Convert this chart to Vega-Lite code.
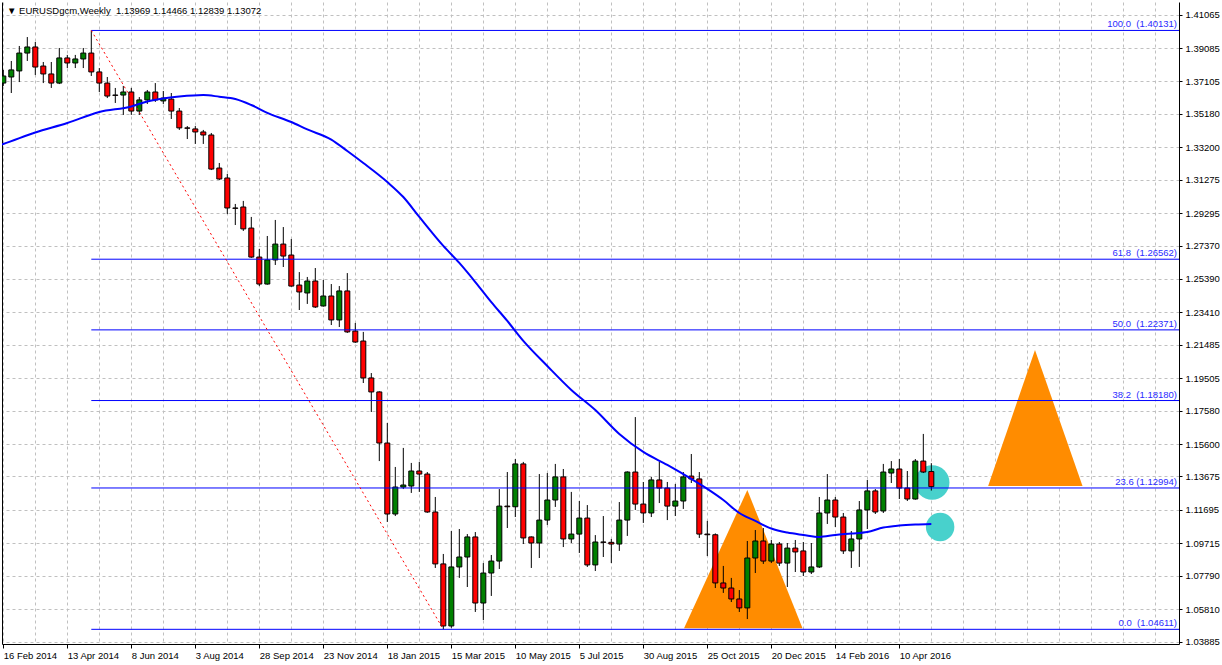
{
  "$schema": "https://vega.github.io/schema/vega-lite/v6.json",
  "width": 1177,
  "height": 642,
  "autosize": {"type": "none"},
  "padding": {"left": 2, "top": 2, "right": 43, "bottom": 21},
  "background": "white",
  "config": {
    "view": {"stroke": null},
    "font": "Liberation Sans",
    "scale": {"continuousPadding": 0},
    "axis": {"labelFont": "Liberation Sans", "labelFontSize": 9.5, "labelColor": "#000000", "title": null}
  },
  "title": {
    "text": "▼ EURUSDgcm,Weekly\u00a0\u00a01.13969 1.14466 1.12839 1.13072",
    "anchor": "start", "frame": "group", "orient": "top", "offset": -13, "dx": 5,
    "fontSize": 9.5, "fontWeight": "normal", "font": "Liberation Sans", "color": "#000000"
  },
  "resolve": {"axis": {"x": "independent", "y": "independent"}},
  "datasets": {
    "candles": [
      {"date":"2014-02-16","open":1.3701,"high":1.3779,"low":1.3684,"close":1.3743},
      {"date":"2014-02-23","open":1.3737,"high":1.3832,"low":1.3642,"close":1.3779},
      {"date":"2014-03-02","open":1.3773,"high":1.3921,"low":1.3707,"close":1.3879},
      {"date":"2014-03-09","open":1.3879,"high":1.3974,"low":1.3832,"close":1.3915},
      {"date":"2014-03-16","open":1.3915,"high":1.3945,"low":1.3749,"close":1.3796},
      {"date":"2014-03-23","open":1.3802,"high":1.3826,"low":1.3701,"close":1.3755},
      {"date":"2014-03-30","open":1.3755,"high":1.3826,"low":1.3672,"close":1.3701},
      {"date":"2014-04-06","open":1.3701,"high":1.3909,"low":1.3695,"close":1.3850},
      {"date":"2014-04-13","open":1.3850,"high":1.3868,"low":1.3790,"close":1.3820},
      {"date":"2014-04-20","open":1.3820,"high":1.3868,"low":1.3790,"close":1.3844},
      {"date":"2014-04-27","open":1.3844,"high":1.3909,"low":1.3790,"close":1.3879},
      {"date":"2014-05-04","open":1.3879,"high":1.40131,"low":1.3743,"close":1.3767},
      {"date":"2014-05-11","open":1.3767,"high":1.3790,"low":1.3648,"close":1.3701},
      {"date":"2014-05-18","open":1.3701,"high":1.3737,"low":1.3612,"close":1.3624},
      {"date":"2014-05-25","open":1.3630,"high":1.3672,"low":1.3583,"close":1.3628},
      {"date":"2014-06-01","open":1.3630,"high":1.3684,"low":1.3512,"close":1.3648},
      {"date":"2014-06-08","open":1.3648,"high":1.3672,"low":1.3512,"close":1.3535},
      {"date":"2014-06-15","open":1.3535,"high":1.3618,"low":1.3512,"close":1.3601},
      {"date":"2014-06-22","open":1.3601,"high":1.3660,"low":1.3577,"close":1.3648},
      {"date":"2014-06-29","open":1.3648,"high":1.3701,"low":1.3589,"close":1.3601},
      {"date":"2014-07-06","open":1.3595,"high":1.3654,"low":1.3577,"close":1.3612},
      {"date":"2014-07-13","open":1.3606,"high":1.3642,"low":1.3488,"close":1.3535},
      {"date":"2014-07-20","open":1.3535,"high":1.3553,"low":1.3423,"close":1.3435},
      {"date":"2014-07-27","open":1.3435,"high":1.3446,"low":1.3369,"close":1.3433},
      {"date":"2014-08-03","open":1.3429,"high":1.3446,"low":1.3340,"close":1.3411},
      {"date":"2014-08-10","open":1.3411,"high":1.3423,"low":1.3340,"close":1.3393},
      {"date":"2014-08-17","open":1.3393,"high":1.3405,"low":1.3185,"close":1.3191},
      {"date":"2014-08-24","open":1.3197,"high":1.3227,"low":1.3126,"close":1.3132},
      {"date":"2014-08-31","open":1.3138,"high":1.3162,"low":1.2924,"close":1.2960},
      {"date":"2014-09-07","open":1.2960,"high":1.2984,"low":1.2859,"close":1.2958},
      {"date":"2014-09-14","open":1.2966,"high":1.3002,"low":1.2824,"close":1.2836},
      {"date":"2014-09-21","open":1.2841,"high":1.2907,"low":1.2664,"close":1.2669},
      {"date":"2014-09-28","open":1.2669,"high":1.2717,"low":1.2497,"close":1.2509},
      {"date":"2014-10-05","open":1.2509,"high":1.2794,"low":1.2505,"close":1.2652},
      {"date":"2014-10-12","open":1.2652,"high":1.2889,"low":1.2622,"close":1.2746},
      {"date":"2014-10-19","open":1.2746,"high":1.2847,"low":1.2610,"close":1.2675},
      {"date":"2014-10-26","open":1.2681,"high":1.2776,"low":1.2493,"close":1.2497},
      {"date":"2014-11-02","open":1.2503,"high":1.2580,"low":1.2355,"close":1.2462},
      {"date":"2014-11-09","open":1.2456,"high":1.2551,"low":1.2391,"close":1.2527},
      {"date":"2014-11-16","open":1.2527,"high":1.2604,"low":1.2367,"close":1.2373},
      {"date":"2014-11-23","open":1.2379,"high":1.2533,"low":1.2375,"close":1.2438},
      {"date":"2014-11-30","open":1.2438,"high":1.2509,"low":1.2266,"close":1.2296},
      {"date":"2014-12-07","open":1.2296,"high":1.2497,"low":1.2254,"close":1.2468},
      {"date":"2014-12-14","open":1.2468,"high":1.2574,"low":1.2219,"close":1.2225},
      {"date":"2014-12-21","open":1.2230,"high":1.2278,"low":1.2160,"close":1.2165},
      {"date":"2014-12-28","open":1.2171,"high":1.2225,"low":1.1922,"close":1.1952},
      {"date":"2015-01-04","open":1.1952,"high":1.1981,"low":1.1750,"close":1.1869},
      {"date":"2015-01-11","open":1.1869,"high":1.1873,"low":1.1459,"close":1.1566},
      {"date":"2015-01-18","open":1.1566,"high":1.1685,"low":1.1098,"close":1.1145},
      {"date":"2015-01-25","open":1.1145,"high":1.1424,"low":1.1133,"close":1.1305},
      {"date":"2015-02-01","open":1.1305,"high":1.1537,"low":1.1293,"close":1.1317},
      {"date":"2015-02-08","open":1.1311,"high":1.1448,"low":1.1270,"close":1.1400},
      {"date":"2015-02-15","open":1.1400,"high":1.1454,"low":1.1276,"close":1.1382},
      {"date":"2015-02-22","open":1.1382,"high":1.1394,"low":1.1152,"close":1.1157},
      {"date":"2015-03-01","open":1.1157,"high":1.1246,"low":1.0825,"close":1.0849},
      {"date":"2015-03-08","open":1.0849,"high":1.0908,"low":1.04611,"close":1.0481},
      {"date":"2015-03-15","open":1.0481,"high":1.1044,"low":1.0470,"close":1.0831},
      {"date":"2015-03-22","open":1.0831,"high":1.1056,"low":1.0766,"close":1.0890},
      {"date":"2015-03-29","open":1.0890,"high":1.1026,"low":1.0712,"close":1.1009},
      {"date":"2015-04-05","open":1.1009,"high":1.1038,"low":1.0564,"close":1.0617},
      {"date":"2015-04-12","open":1.0617,"high":1.0854,"low":1.0516,"close":1.0795},
      {"date":"2015-04-19","open":1.0795,"high":1.0902,"low":1.0659,"close":1.0866},
      {"date":"2015-04-26","open":1.0866,"high":1.1293,"low":1.0819,"close":1.1192},
      {"date":"2015-05-03","open":1.1192,"high":1.1394,"low":1.1062,"close":1.1188},
      {"date":"2015-05-10","open":1.1188,"high":1.1471,"low":1.1127,"close":1.1442},
      {"date":"2015-05-17","open":1.1442,"high":1.1454,"low":1.0967,"close":1.1003},
      {"date":"2015-05-24","open":1.1009,"high":1.1012,"low":1.0825,"close":1.0973},
      {"date":"2015-05-31","open":1.0973,"high":1.1382,"low":1.0884,"close":1.1109},
      {"date":"2015-06-07","open":1.1109,"high":1.1388,"low":1.1080,"close":1.1228},
      {"date":"2015-06-14","open":1.1228,"high":1.1442,"low":1.1187,"close":1.1365},
      {"date":"2015-06-21","open":1.1365,"high":1.1412,"low":1.0949,"close":1.0997},
      {"date":"2015-06-28","open":1.0997,"high":1.1276,"low":1.0973,"close":1.1026},
      {"date":"2015-07-05","open":1.1026,"high":1.1222,"low":1.0914,"close":1.1121},
      {"date":"2015-07-12","open":1.1121,"high":1.1198,"low":1.0831,"close":1.0843},
      {"date":"2015-07-19","open":1.0843,"high":1.1020,"low":1.0807,"close":1.0979},
      {"date":"2015-07-26","open":1.0979,"high":1.1133,"low":1.0890,"close":1.0977},
      {"date":"2015-08-02","open":1.0977,"high":1.0997,"low":1.0854,"close":1.0967},
      {"date":"2015-08-09","open":1.0967,"high":1.1216,"low":1.0926,"close":1.1109},
      {"date":"2015-08-16","open":1.1109,"high":1.1398,"low":1.1015,"close":1.1394},
      {"date":"2015-08-23","open":1.1394,"high":1.1720,"low":1.1169,"close":1.1204},
      {"date":"2015-08-30","open":1.1204,"high":1.1335,"low":1.1092,"close":1.1151},
      {"date":"2015-09-06","open":1.1151,"high":1.1365,"low":1.1127,"close":1.1347},
      {"date":"2015-09-13","open":1.1347,"high":1.1454,"low":1.1210,"close":1.1299},
      {"date":"2015-09-20","open":1.1299,"high":1.1335,"low":1.1109,"close":1.1192},
      {"date":"2015-09-27","open":1.1192,"high":1.1323,"low":1.1133,"close":1.1222},
      {"date":"2015-10-04","open":1.1222,"high":1.1394,"low":1.1175,"close":1.1365},
      {"date":"2015-10-11","open":1.1370,"high":1.1501,"low":1.1329,"close":1.1353},
      {"date":"2015-10-18","open":1.1353,"high":1.1394,"low":1.1003,"close":1.1026},
      {"date":"2015-10-25","open":1.1026,"high":1.1104,"low":1.0896,"close":1.1022},
      {"date":"2015-11-01","open":1.1022,"high":1.1030,"low":1.0706,"close":1.0736},
      {"date":"2015-11-08","open":1.0736,"high":1.0837,"low":1.0677,"close":1.0706},
      {"date":"2015-11-15","open":1.0706,"high":1.0766,"low":1.0623,"close":1.0641},
      {"date":"2015-11-22","open":1.0641,"high":1.0694,"low":1.0564,"close":1.0588},
      {"date":"2015-11-29","open":1.0588,"high":1.0985,"low":1.0522,"close":1.0884},
      {"date":"2015-12-06","open":1.0884,"high":1.1050,"low":1.0795,"close":1.0985},
      {"date":"2015-12-13","open":1.0985,"high":1.1062,"low":1.0849,"close":1.0866},
      {"date":"2015-12-20","open":1.0866,"high":1.0991,"low":1.0854,"close":1.0967},
      {"date":"2015-12-27","open":1.0967,"high":1.0979,"low":1.0837,"close":1.0854},
      {"date":"2016-01-03","open":1.0854,"high":1.0973,"low":1.0712,"close":1.0943},
      {"date":"2016-01-10","open":1.0943,"high":1.0991,"low":1.0801,"close":1.0920},
      {"date":"2016-01-17","open":1.0926,"high":1.0979,"low":1.0777,"close":1.0801},
      {"date":"2016-01-24","open":1.0801,"high":1.0973,"low":1.0789,"close":1.0831},
      {"date":"2016-01-31","open":1.0831,"high":1.1246,"low":1.0825,"close":1.1151},
      {"date":"2016-02-07","open":1.1151,"high":1.1382,"low":1.1086,"close":1.1228},
      {"date":"2016-02-14","open":1.1228,"high":1.1246,"low":1.1068,"close":1.1127},
      {"date":"2016-02-21","open":1.1127,"high":1.1151,"low":1.0908,"close":1.0926},
      {"date":"2016-02-28","open":1.0926,"high":1.1044,"low":1.0825,"close":1.0997},
      {"date":"2016-03-06","open":1.0997,"high":1.1222,"low":1.0831,"close":1.1169},
      {"date":"2016-03-13","open":1.1169,"high":1.1347,"low":1.1056,"close":1.1282},
      {"date":"2016-03-20","open":1.1282,"high":1.1293,"low":1.1145,"close":1.1157},
      {"date":"2016-03-27","open":1.1163,"high":1.1442,"low":1.1151,"close":1.1394},
      {"date":"2016-04-03","open":1.1388,"high":1.1459,"low":1.1329,"close":1.1412},
      {"date":"2016-04-10","open":1.1412,"high":1.1471,"low":1.1234,"close":1.1299},
      {"date":"2016-04-17","open":1.1299,"high":1.1400,"low":1.1222,"close":1.1234},
      {"date":"2016-04-24","open":1.1234,"high":1.1471,"low":1.1230,"close":1.1459},
      {"date":"2016-05-01","open":1.1459,"high":1.1620,"low":1.1388,"close":1.1394},
      {"date":"2016-05-08","open":1.13969,"high":1.14466,"low":1.12839,"close":1.13072}
    ],
    "ma": [
      {"date":"2014-02-09","ma":1.3325},
      {"date":"2014-02-16","ma":1.3340},{"date":"2014-03-16","ma":1.3408},{"date":"2014-04-13","ma":1.3464},
      {"date":"2014-05-11","ma":1.3529},{"date":"2014-06-08","ma":1.3562},{"date":"2014-06-22","ma":1.3592},
      {"date":"2014-07-06","ma":1.3610},{"date":"2014-07-20","ma":1.3621},{"date":"2014-08-10","ma":1.3630},
      {"date":"2014-08-24","ma":1.3620},{"date":"2014-09-07","ma":1.3607},{"date":"2014-09-21","ma":1.3571},
      {"date":"2014-10-05","ma":1.3524},{"date":"2014-10-26","ma":1.3470},{"date":"2014-11-09","ma":1.3426},
      {"date":"2014-11-30","ma":1.3366},{"date":"2014-12-14","ma":1.3298},{"date":"2014-12-28","ma":1.3227},
      {"date":"2015-01-18","ma":1.3114},{"date":"2015-02-01","ma":1.3025},{"date":"2015-02-15","ma":1.2907},
      {"date":"2015-03-08","ma":1.2735},{"date":"2015-03-22","ma":1.2634},{"date":"2015-04-05","ma":1.2521},
      {"date":"2015-04-19","ma":1.2402},{"date":"2015-05-03","ma":1.2290},{"date":"2015-05-17","ma":1.2172},
      {"date":"2015-06-07","ma":1.2023},{"date":"2015-06-28","ma":1.1881},{"date":"2015-07-19","ma":1.1762},
      {"date":"2015-08-09","ma":1.1620},{"date":"2015-08-30","ma":1.1513},{"date":"2015-09-20","ma":1.1436},
      {"date":"2015-10-11","ma":1.1353},{"date":"2015-10-25","ma":1.1294},{"date":"2015-11-08","ma":1.1228},
      {"date":"2015-11-22","ma":1.1151},{"date":"2015-12-06","ma":1.1104},{"date":"2015-12-20","ma":1.1059},
      {"date":"2016-01-03","ma":1.1035},{"date":"2016-01-17","ma":1.1021},{"date":"2016-01-31","ma":1.1009},
      {"date":"2016-02-14","ma":1.1021},{"date":"2016-02-28","ma":1.1029},{"date":"2016-03-13","ma":1.1038},
      {"date":"2016-03-27","ma":1.1065},{"date":"2016-04-10","ma":1.1077},{"date":"2016-04-24","ma":1.1083},
      {"date":"2016-05-08","ma":1.1086}
    ],
    "fib": [
      {"start":"2014-05-04","price":1.40131,"label":"100.0\u00a0\u00a0(1.40131)"},
      {"start":"2014-05-04","price":1.26562,"label":"61.8\u00a0\u00a0(1.26562)"},
      {"start":"2014-05-04","price":1.22371,"label":"50.0\u00a0\u00a0(1.22371)"},
      {"start":"2014-05-04","price":1.18180,"label":"38.2\u00a0\u00a0(1.18180)"},
      {"start":"2014-05-04","price":1.12994,"label":"23.6\u00a0(1.12994)"},
      {"start":"2014-05-04","price":1.04611,"label":"0.0\u00a0\u00a0(1.04611)"}
    ],
    "trend": [
      {"date":"2014-05-04","price":1.40131},
      {"date":"2015-03-08","price":1.04611}
    ],
    "triangles": [
      {"id":"A","date":"2015-10-04T15:00:00Z","top":1.0467,"base":1.0467},
      {"id":"A","date":"2015-11-29T00:00:00Z","top":1.1287,"base":1.0467},
      {"id":"A","date":"2016-01-16T07:00:00Z","top":1.0467,"base":1.0467},
      {"id":"B","date":"2016-06-26T17:00:00Z","top":1.1311,"base":1.1311},
      {"id":"B","date":"2016-08-06T17:00:00Z","top":1.2118,"base":1.1311},
      {"id":"B","date":"2016-09-17T07:00:00Z","top":1.1311,"base":1.1311}
    ],
    "circles": [
      {"id":"upper","date":"2016-05-08T17:00:00Z","price":1.1332},
      {"id":"lower","date":"2016-05-15T17:00:00Z","price":1.1068}
    ]
  },
  "layer": [
    {
      "data": {"name": "triangles"},
      "mark": {"type": "area", "color": "#ff8c00", "opacity": 1, "interpolate": "linear"},
      "encoding": {
        "x": {"field": "date", "type": "temporal", "axis": null,
              "scale": {"type": "utc", "nice": false, "padding": 0, "domain": [{"year":2014,"month":"feb","date":14,"hours":20,"minutes":42,"utc":true},{"year":2016,"month":"dec","date":10,"hours":17,"utc":true}]}},
        "y": {"field": "top", "type": "quantitative", "axis": null, "scale": {"domain": [1.0374, 1.41818], "nice": false, "zero": false, "padding": 0}},
        "y2": {"field": "base"},
        "detail": {"field": "id"}
      }
    },
    {
      "data": {"name": "circles"},
      "transform": [{"filter": "datum.id == 'upper'"}],
      "mark": {"type": "point", "filled": true, "shape": "circle", "size": 1200, "color": "#48d1cc", "opacity": 1, "strokeWidth": 0},
      "encoding": {
        "x": {"field": "date", "type": "temporal", "axis": null},
        "y": {"field": "price", "type": "quantitative", "axis": null}
      }
    },
    {
      "data": {"name": "circles"},
      "transform": [{"filter": "datum.id == 'lower'"}],
      "mark": {"type": "point", "filled": true, "shape": "circle", "size": 810, "color": "#48d1cc", "opacity": 1, "strokeWidth": 0},
      "encoding": {
        "x": {"field": "date", "type": "temporal", "axis": null},
        "y": {"field": "price", "type": "quantitative", "axis": null}
      }
    },
    {
      "data": {"name": "candles"},
      "mark": {"type": "rule", "color": "#000000", "strokeWidth": 1, "clip": true},
      "encoding": {
        "x": {"field": "date", "type": "temporal",
              "scale": {"type": "utc", "nice": false, "padding": 0, "domain": [{"year":2014,"month":"feb","date":14,"hours":20,"minutes":42,"utc":true},{"year":2016,"month":"dec","date":10,"hours":17,"utc":true}]},
              "axis": {
                "orient": "bottom",
                "values": [1392508800000,1394928000000,1397347200000,1399766400000,1402185600000,1404604800000,1407024000000,1409443200000,1411862400000,1414281600000,1416700800000,1419120000000,1421539200000,1423958400000,1426377600000,1428796800000,1431216000000,1433635200000,1436054400000,1438473600000,1440892800000,1443312000000,1445731200000,1448150400000,1450569600000,1452988800000,1455408000000,1457827200000,1460246400000,1462665600000,1465084800000,1467504000000,1469923200000,1472342400000,1474761600000,1477180800000,1479600000000],
                "labelExpr": "(round((datum.value - 1392508800000) / 2419200000) % 2 == 0 && datum.value <= 1460246400000) ? utcFormat(datum.value, '%-d %b %Y') : ''",
                "labelAlign": "left", "labelBaseline": "top", "labelPadding": 2, "labelOverlap": false, "labelFlush": false, "labelBound": false,
                "labelFontSize": 9.5, "labelColor": "#000000", "labelFont": "Liberation Sans",
                "tickSize": 4, "tickColor": "#000000",
                "tickOpacity": {"condition": {"test": "round((datum.value - 1392508800000) / 2419200000) % 2 == 0 && datum.value <= 1460246400000", "value": 1}, "value": 0},
                "domain": true, "domainColor": "#000000", "domainWidth": 1,
                "grid": true, "gridColor": "#c0c0c0", "gridDash": [3, 3], "gridWidth": 1,
                "title": null
              }},
        "y": {"field": "low", "type": "quantitative",
              "scale": {"domain": [1.0374, 1.41818], "nice": false, "zero": false, "padding": 0},
              "axis": {
                "orient": "right",
                "values": [1.41065,1.39085,1.37105,1.35180,1.33200,1.31275,1.29295,1.27370,1.25390,1.23410,1.21485,1.19505,1.17580,1.15600,1.13675,1.11695,1.09715,1.07790,1.05810,1.03885],
                "format": ".5f", "labelFontSize": 9.5, "labelColor": "#000000", "labelFont": "Liberation Sans",
                "labelPadding": 3, "labelOverlap": false, "labelBound": false, "labelFlush": false, "labelBaseline": "middle",
                "tickSize": 3, "tickColor": "#000000",
                "domain": true, "domainColor": "#000000", "domainWidth": 1,
                "grid": true, "gridColor": "#c0c0c0", "gridDash": [3, 3], "gridWidth": 1,
                "title": null
              }},
        "y2": {"field": "high"}
      }
    },
    {
      "data": {"name": "candles"},
      "mark": {"type": "bar", "size": 5, "stroke": "#000000", "strokeWidth": 1, "clip": true},
      "encoding": {
        "x": {"field": "date", "type": "temporal", "axis": null},
        "y": {"field": "open", "type": "quantitative",
              "axis": {"orient": "left", "labels": false, "ticks": false, "grid": false, "domain": true, "domainColor": "#000000", "title": null}},
        "y2": {"field": "close"},
        "color": {"condition": {"test": "datum.close > datum.open", "value": "#008000"}, "value": "#ff0000"}
      }
    },
    {
      "data": {"name": "fib"},
      "mark": {"type": "rule", "color": "#0000ff", "strokeWidth": 1, "clip": true},
      "encoding": {
        "x": {"field": "start", "type": "temporal", "axis": null},
        "x2": {"datum": {"year":2017,"month":"jan","date":1,"utc":true}},
        "y": {"field": "price", "type": "quantitative", "axis": null}
      }
    },
    {
      "mark": {"type": "rule", "color": "#909090", "strokeWidth": 1},
      "encoding": {
        "y": {"datum": 1.13072, "type": "quantitative", "axis": null}
      }
    },
    {
      "data": {"name": "trend"},
      "mark": {"type": "line", "color": "#ff0000", "strokeWidth": 1, "strokeDash": [2, 3]},
      "encoding": {
        "x": {"field": "date", "type": "temporal", "axis": null},
        "y": {"field": "price", "type": "quantitative", "axis": null}
      }
    },
    {
      "data": {"name": "ma"},
      "mark": {"type": "line", "color": "#0000ff", "strokeWidth": 2, "interpolate": "monotone", "clip": true},
      "encoding": {
        "x": {"field": "date", "type": "temporal", "axis": null},
        "y": {"field": "ma", "type": "quantitative", "axis": null}
      }
    },
    {
      "data": {"name": "fib"},
      "mark": {"type": "text", "align": "right", "baseline": "alphabetic", "dx": -2, "dy": -3, "fontSize": 9.5, "font": "Liberation Sans", "color": "#2b2bff"},
      "encoding": {
        "x": {"datum": {"year":2016,"month":"dec","date":10,"hours":17,"utc":true}, "type": "temporal", "axis": null},
        "y": {"field": "price", "type": "quantitative", "axis": null},
        "text": {"field": "label"}
      }
    },
    {
      "mark": {"type": "rect", "color": "#000000", "clip": false},
      "encoding": {
        "x": {"datum": {"year":2016,"month":"dec","date":11,"utc":true}, "type": "temporal", "axis": null},
        "x2": {"datum": {"year":2017,"month":"jan","date":22,"utc":true}},
        "y": {"datum": 1.1338, "type": "quantitative", "axis": null},
        "y2": {"datum": 1.1276}
      }
    },
    {
      "mark": {"type": "text", "align": "left", "baseline": "middle", "dx": 4, "fontSize": 9.5, "font": "Liberation Sans", "color": "#ffffff", "clip": false},
      "encoding": {
        "x": {"datum": {"year":2016,"month":"dec","date":11,"utc":true}, "type": "temporal", "axis": null},
        "y": {"datum": 1.13072, "type": "quantitative", "axis": null},
        "text": {"value": "1.13072"}
      }
    }
  ]
}
